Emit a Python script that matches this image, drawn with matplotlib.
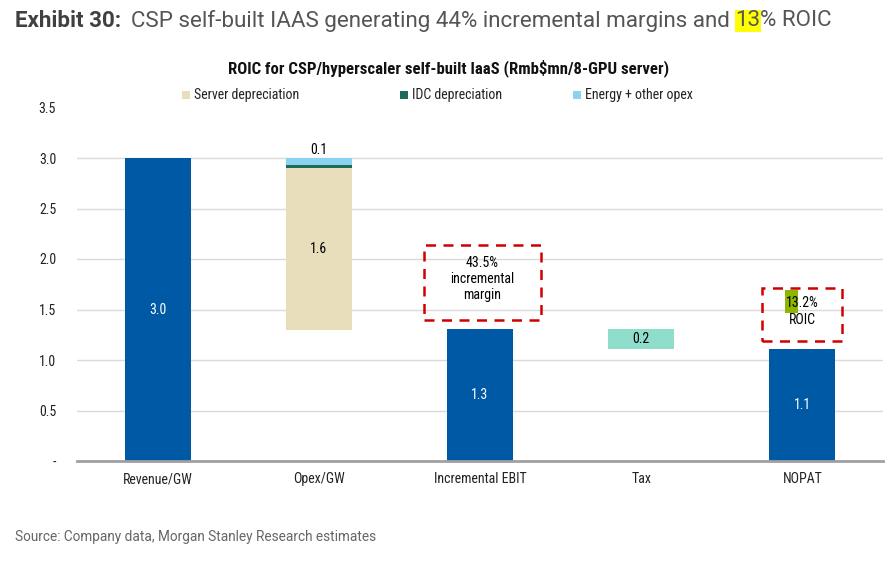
import matplotlib.pyplot as plt
from matplotlib.patches import Rectangle
import matplotlib.font_manager as fm

# chart body uses a narrow face when one is installed
names = set(f.name for f in fm.fontManager.ttflist)
condensed = [f for f in fm.fontManager.ttflist if 'DejaVuSansCondensed' in f.fname]
if 'Roboto Condensed' in names:
    plt.rcParams['font.family'] = ['Roboto Condensed', 'DejaVu Sans']
elif 'Liberation Sans Narrow' in names:
    plt.rcParams['font.family'] = ['Liberation Sans Narrow', 'DejaVu Sans']
elif condensed:
    plt.rcParams['font.family'] = ['DejaVu Sans']
    plt.rcParams['font.stretch'] = 'condensed'
else:
    plt.rcParams['font.family'] = ['Roboto', 'DejaVu Sans']

categories = ['Revenue/GW', 'Opex/GW', 'Incremental EBIT', 'Tax', 'NOPAT']
revenue = 3.0
opex_base = 1.30
server_dep = 1.60
idc_dep = 0.03
energy = 0.07
ebit = 1.31
tax = 0.20
nopat = 1.11
ebit_margin = '43.5%'
roic = '13.2%'
legend_labels = ['Server depreciation', 'IDC depreciation', 'Energy + other opex']
chart_title = 'ROIC for CSP/hyperscaler self-built IaaS (Rmb$mn/8-GPU server)'

blue = '#0059A4'
c_server = '#E8DEBB'
c_idc = '#1D6A5A'
c_energy = '#8AD2F0'
c_tax = '#8FDDCB'

W, H = 891, 575
fig = plt.figure(figsize=(W / 100, H / 100), dpi=100)


def fit_size(text, target_px, weight='normal', base=10.0):
    # pick a font size so the text is about as wide as in the original
    t = fig.text(0, 0, text, fontsize=base, fontweight=weight)
    wpx = t.get_window_extent(fig.canvas.get_renderer()).width
    t.remove()
    return base * target_px / wpx


fs = min(fit_size('Incremental EBIT', 93), 11)
fs_title = min(fit_size(chart_title, 440, weight='bold'), 12.5)

ax = fig.add_axes([77 / W, 1 - 461 / H, 806 / W, 353.5 / H])

w = 0.41
x = list(range(len(categories)))

ax.bar(x[0], revenue, w, color=blue, zorder=3)
ax.bar(x[1], server_dep, w, bottom=opex_base, color=c_server, zorder=3)
ax.bar(x[1], idc_dep, w, bottom=opex_base + server_dep, color=c_idc, zorder=3)
ax.bar(x[1], energy, w, bottom=opex_base + server_dep + idc_dep, color=c_energy, zorder=3)
ax.bar(x[2], ebit, w, color=blue, zorder=3)
ax.bar(x[3], tax, w, bottom=nopat, color=c_tax, zorder=3)
ax.bar(x[4], nopat, w, color=blue, zorder=3)

# value labels
ax.text(x[0], revenue / 2, f'{revenue:.1f}', ha='center', va='center', color='white', fontsize=fs, zorder=4)
ax.text(x[1], opex_base + server_dep / 2, f'{server_dep:.1f}', ha='center', va='center', fontsize=fs, zorder=4)
ax.text(x[1], opex_base + server_dep + idc_dep + energy + 0.08, f'{idc_dep + energy:.1f}',
        ha='center', va='center', fontsize=fs, zorder=4)
ax.text(x[2], ebit / 2, f'{ebit:.1f}', ha='center', va='center', color='white', fontsize=fs, zorder=4)
ax.text(x[3], nopat + tax / 2, f'{tax:.1f}', ha='center', va='center', fontsize=fs, zorder=4)
ax.text(x[4], nopat / 2, f'{nopat:.1f}', ha='center', va='center', color='white', fontsize=fs, zorder=4)

# dashed callout boxes
red = '#D00000'
ax.add_patch(Rectangle((1.653, 1.40), 0.725, 0.74, fill=False, ec=red, ls=(0, (4, 3)), lw=1.8, zorder=5))
ax.text(2.013, 1.80, ebit_margin + '\nincremental\nmargin', ha='center', va='center', fontsize=fs,
        linespacing=1.2, zorder=6)
ax.add_patch(Rectangle((3.75, 1.19), 0.496, 0.52, fill=False, ec=red, ls=(0, (4, 3)), lw=1.8, zorder=5))
ax.add_patch(Rectangle((3.892, 1.465), 0.081, 0.225, color='#8DB600', lw=0, zorder=5))
ax.text(4.0, 1.48, roic + '\nROIC', ha='center', va='center', fontsize=fs, linespacing=1.25, zorder=6)

ax.set_xlim(-0.5, 4.5)
ax.set_ylim(0, 3.5)
ax.set_xticks(x)
ax.set_xticklabels(categories, fontsize=fs, color='#222222')
ax.set_yticks([0, 0.5, 1.0, 1.5, 2.0, 2.5, 3.0, 3.5])
ax.set_yticklabels(['-', '0.5', '1.0', '1.5', '2.0', '2.5', '3.0', '3.5'], fontsize=fs, color='#222222')
ax.tick_params(axis='y', length=0, pad=15)
ax.tick_params(axis='x', length=0, pad=8)
ax.yaxis.grid(True, color='#DADADA', lw=1, zorder=0)
ax.yaxis.get_gridlines()[-1].set_visible(False)
for s in ['top', 'right', 'left']:
    ax.spines[s].set_visible(False)
ax.spines['bottom'].set_color('#A0A0A0')
ax.spines['bottom'].set_linewidth(2)
ax.spines['bottom'].set_zorder(4)

# legend, placed by hand like the original
leg_x = [186, 404, 577]
leg_c = [c_server, c_idc, c_energy]
for lx, lc, lt in zip(leg_x, leg_c, legend_labels):
    fig.add_artist(Rectangle(((lx - 4) / W, 1 - 99 / H), 8 / W, 8 / H, color=lc, lw=0,
                             transform=fig.transFigure))
    fig.text((lx + 8) / W, 1 - 95 / H, lt, ha='left', va='center', fontsize=fs, color='#222222')

fig.text(449 / W, 1 - 68 / H, chart_title, ha='center', va='center', fontsize=fs_title, fontweight='bold',
         color='#111111')

# exhibit header with highlighted digits
hdr = dict(va='center', fontsize=16.1, family='Roboto', stretch='normal')
fig.text(15 / W, 1 - 21 / H, 'Exhibit 30:', ha='left', fontweight='bold', color='#404040', **hdr)
t1 = fig.text(131 / W, 1 - 21 / H, 'CSP self-built IAAS generating 44% incremental margins and ',
              ha='left', color='#555555', **hdr)
fig.canvas.draw()
bb = t1.get_window_extent()
t2 = fig.text(bb.x1 / W, 1 - 21 / H, '13', ha='left', color='#555555',
              bbox=dict(boxstyle='square,pad=0.03', fc='#FFFF00', ec='none'), **hdr)
fig.canvas.draw()
bb2 = t2.get_window_extent()
fig.text(bb2.x1 / W, 1 - 21 / H, '% ROIC', ha='left', color='#555555', **hdr)

fig.text(15 / W, 1 - 537 / H, 'Source: Company data, Morgan Stanley Research estimates', ha='left',
         va='center', fontsize=9.8, color='#666666', family='Roboto', stretch='normal')

fig.savefig('out.png', dpi=100, facecolor='white')
